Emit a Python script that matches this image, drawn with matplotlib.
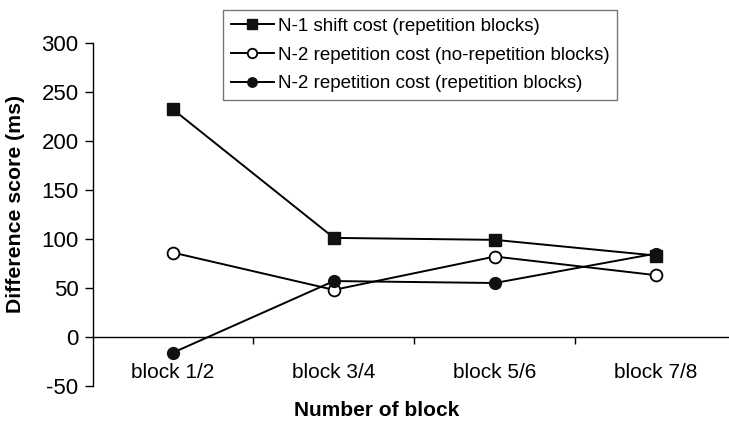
import matplotlib
matplotlib.use("Agg")
import matplotlib.pyplot as plt

plt.rcParams['font.family'] = ['Liberation Sans', 'DejaVu Sans']
plt.rcParams['axes.unicode_minus'] = False

blocks = ["block 1/2", "block 3/4", "block 5/6", "block 7/8"]
n1_shift_rep = [232, 101, 99, 83]
n2_rep_norep = [86, 48, 82, 63]
n2_rep_rep = [-16, 57, 55, 85]


def main():
    fig = plt.figure(figsize=(7.29, 4.25), dpi=100)
    ax = fig.add_axes([92.5 / 729, 1 - 386 / 425, 1 - 92.5 / 729 + 0.01, (386 - 42.7) / 425])
    x = range(len(blocks))

    ax.plot(x, n1_shift_rep, color="black", lw=1.4, marker="s", ms=9,
            mfc="#111111", mec="#111111", label="N-1 shift cost (repetition blocks)")
    ax.plot(x, n2_rep_norep, color="black", lw=1.4, marker="o", ms=8.5,
            mfc="white", mec="black", mew=1.3, label="N-2 repetition cost (no-repetition blocks)")
    ax.plot(x, n2_rep_rep, color="black", lw=1.4, marker="o", ms=8.5,
            mfc="#111111", mec="#111111", label="N-2 repetition cost (repetition blocks)")

    ax.set_xlim(-0.5, 3.5)
    ax.set_ylim(-50, 300)
    ax.set_yticks(range(-50, 301, 50))
    ax.tick_params(axis="y", direction="out", length=6, width=1, labelsize=16, pad=4)

    ax.spines["top"].set_visible(False)
    ax.spines["right"].set_visible(False)
    ax.spines["bottom"].set_position(("data", 0))
    ax.spines["left"].set_linewidth(1)
    ax.spines["bottom"].set_linewidth(1)

    ax.set_xticks(list(x))
    ax.set_xticklabels(blocks)
    ax.set_xticks([0.5, 1.5, 2.5], minor=True)
    ax.tick_params(axis="x", which="major", length=0, labelsize=15, pad=19)
    ax.tick_params(axis="x", which="minor", direction="out", length=5, width=1)

    fig.text(16 / 729, 1 - 204 / 425, "Difference score (ms)", rotation=90,
             ha="center", va="center", fontsize=15.3, fontweight="bold")
    fig.text(377 / 729, 1 - 410 / 425, "Number of block", ha="center", va="center",
             fontsize=15, fontweight="bold")

    leg = fig.legend(loc="upper left", bbox_to_anchor=(223 / 729, 1 - 10 / 425),
                     fontsize=13.5, frameon=True, fancybox=False, edgecolor="#555555",
                     handlelength=2.3, handletextpad=0.2, labelspacing=0.62,
                     borderpad=0.42, borderaxespad=0, markerscale=0.8)
    leg.get_frame().set_linewidth(1)

    fig.savefig("out.png", dpi=100)


if __name__ == '__main__':
    main()
